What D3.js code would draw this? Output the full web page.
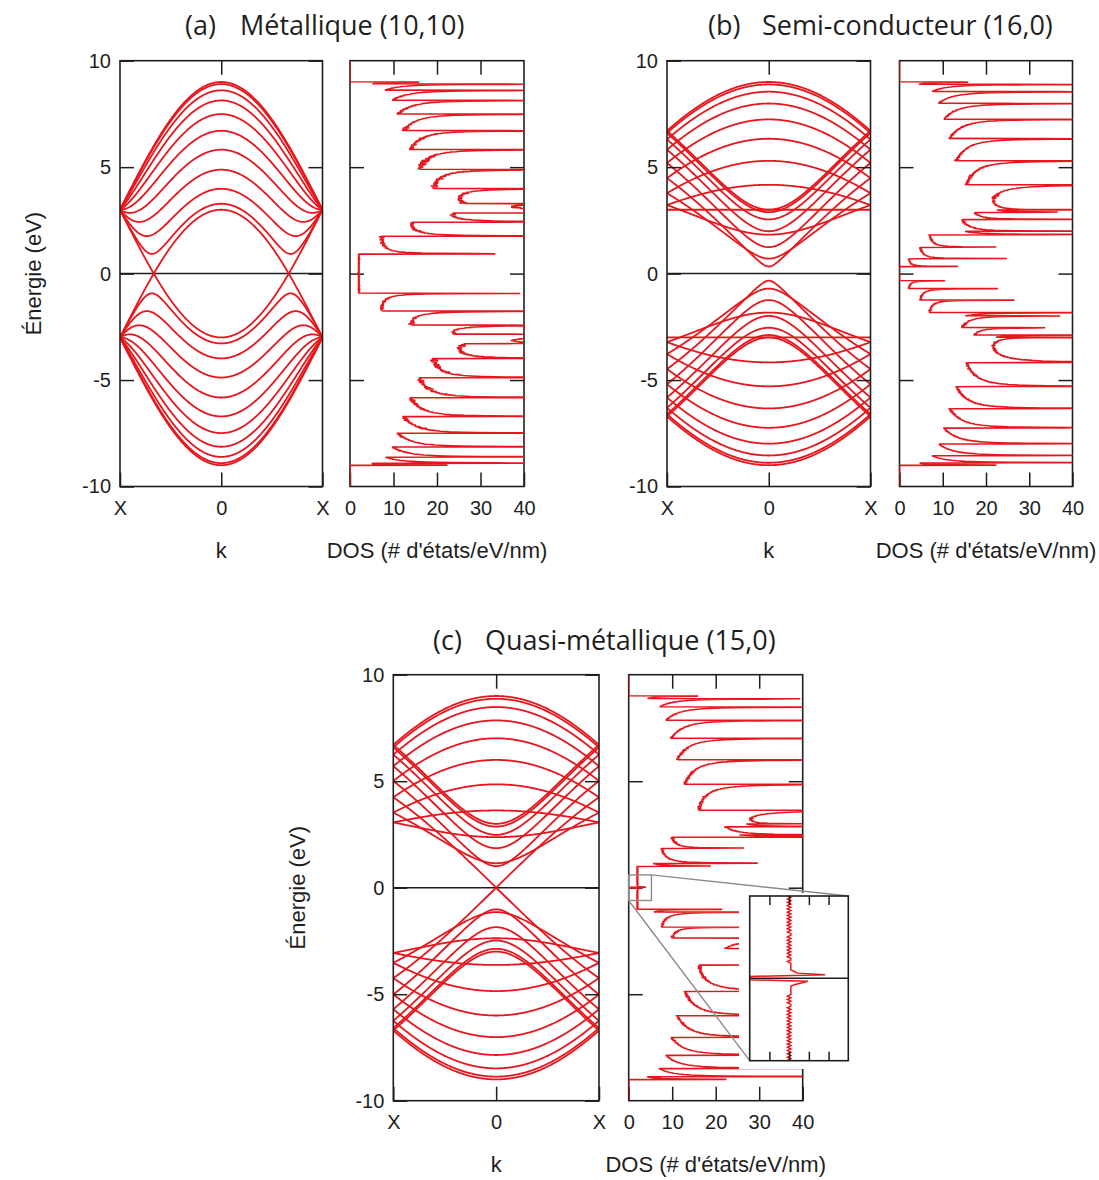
<!DOCTYPE html>
<html>
<head>
<meta charset="utf-8">
<script src="https://cdn.jsdelivr.net/npm/d3@7"></script>
<style>
  body { margin: 0; background: #fff; }
  svg { display: block; }
</style>
</head>
<body>
<svg id="fig" width="1099" height="1180"></svg>
<script>
// ---- Nanotube definitions -------------------------------------------------
const panelIds   = ["(a)", "(b)", "(c)"];
const panelNames = ["Métallique (10,10)", "Semi-conducteur (16,0)", "Quasi-métallique (15,0)"];
const chiralN    = [10, 16, 15];
const chiralM    = [10, 0, 0];
const curvatureGap = [0, 0, 0.044];    // full secondary gap (eV) from tube curvature
const hoppingEV  = 3.0;                // nearest-neighbour hopping γ0 (eV)
const latticeNm  = 0.246;              // graphene lattice constant (nm)

// ---- Axis ticks ----------------------------------------------------------
const energyTicks      = [-10, -5, 0, 5, 10];
const energyTickLabels = ["-10", "-5", "0", "5", "10"];
const kTicks           = [-1, 0, 1];
const kTickLabels      = ["X", "0", "X"];
const dosTicks         = [0, 10, 20, 30, 40];
const dosTickLabels    = ["0", "10", "20", "30", "40"];
const insetDosTicks    = [1, 2, 3, 4];
const insetEnergyRange = [-0.6, 0.6];
const insetDosRange    = [0, 5];

// Numerical DOS settings (histogram of subband energies)
const binWidth    = 0.012;    // eV
const sampleCount = 9000;     // k-samples per subband

// ---- Zone-folding tight-binding model ------------------------------------
function gcd(a, b) { return b ? gcd(b, a % b) : a; }

function tube(n, m, gap) {
  const dR = gcd(2 * m + n, 2 * n + m);
  const t1 = (2 * m + n) / dR, t2 = -(2 * n + m) / dR;
  const N = 2 * (n * n + m * m + n * m) / dR;                 // number of subbands
  const T = Math.sqrt(3) * latticeNm * Math.sqrt(n * n + n * m + m * m) / dR; // unit cell length
  const half = gap / 2;
  // subband mu, reduced wavevector s in [-1/2, 1/2], sign = conduction/valence
  function energy(mu, s, sign) {
    const p1 = 2 * Math.PI * (-mu * t2 + s * m) / N;
    const p2 = 2 * Math.PI * (mu * t1 - s * n) / N;
    const re = 1 + Math.cos(p1) + Math.cos(p2);
    const im = Math.sin(p1) + Math.sin(p2);
    const e = hoppingEV * Math.hypot(re, im);
    return sign * Math.sqrt(e * e + half * half);
  }
  return { N, T, energy };
}

function dosHistogram(tb) {
  const nBins = Math.ceil(20 / binWidth);
  const g = new Float64Array(nBins);
  const w = 2 / (sampleCount * tb.T * binWidth);   // spin-degenerate, states / eV / nm
  for (let mu = 0; mu < tb.N; mu++) {
    for (let j = 0; j < sampleCount; j++) {
      const s = -0.5 + (j + 0.5) / sampleCount;
      const e = tb.energy(mu, s, 1);
      let b = Math.floor((e + 10) / binWidth);
      if (b >= 0 && b < nBins) g[b] += w;
      b = Math.floor((-e + 10) / binWidth);
      if (b >= 0 && b < nBins) g[b] += w;
    }
  }
  const pts = [{ e: -10, g: 0 }];
  g.forEach((v, b) => {
    const e = -10 + (b + 0.5) * binWidth;
    if (e < 10) pts.push({ e, g: v });
  });
  pts.push({ e: 10, g: 0 });
  return pts;
}

// ---- Drawing ---------------------------------------------------------------
const RED = "#e8161c", INK = "#1e1e1e";
const sansFont  = "'Liberation Sans', Arial, sans-serif";
const titleFont = "'Open Sans', sans-serif";
const svg = d3.select("#fig");
const defs = svg.append("defs");

const layout = [
  { band: [120, 322.5], dos: [350, 524],     top: 60.7,  bottom: 486.5,
    id: [185, 35], name: [240, 35], ylab: 33 },
  { band: [667, 870.5], dos: [899.5, 1072.5], top: 60.7, bottom: 486.5,
    id: [708, 35], name: [762, 35], ylab: null },
  { band: [393.3, 599], dos: [628.7, 802.7], top: 674.7, bottom: 1100.7,
    id: [433, 650], name: [485, 650], ylab: 297 }
];

function styleAxis(g) {
  g.select(".domain").remove();
  g.attr("font-size", 20).attr("font-family", sansFont).attr("color", INK);
  g.selectAll(".tick line").attr("stroke-width", 1.5);
  return g;
}

function clip(id, x0, y0, x1, y1) {
  defs.append("clipPath").attr("id", id).append("rect")
    .attr("x", x0).attr("y", y0).attr("width", x1 - x0).attr("height", y1 - y0);
}

function drawPanel(i) {
  const L = layout[i];
  const tb = tube(chiralN[i], chiralM[i], curvatureGap[i]);
  const y  = d3.scaleLinear().domain([-10, 10]).range([L.bottom, L.top]);
  const xk = d3.scaleLinear().domain([-1, 1]).range(L.band);
  const xd = d3.scaleLinear().domain([0, 40]).range(L.dos);
  const g = svg.append("g");

  // Titles
  g.append("text").attr("x", L.id[0]).attr("y", L.id[1])
    .attr("font-family", titleFont).attr("font-size", 27).attr("fill", INK).text(panelIds[i]);
  g.append("text").attr("x", L.name[0]).attr("y", L.name[1])
    .attr("font-family", titleFont).attr("font-size", 27).attr("fill", INK).text(panelNames[i]);

  // ---------- band structure ----------
  const bx0 = L.band[0], bx1 = L.band[1];
  clip("cb" + i, bx0, L.top, bx1, L.bottom);

  g.append("line").attr("x1", bx0).attr("x2", bx1).attr("y1", y(0)).attr("y2", y(0))
    .attr("stroke", INK).attr("stroke-width", 1.5);

  const ks = d3.range(0, 401).map(j => -1 + 2 * j / 400);
  const curves = [];
  for (let mu = 0; mu <= tb.N / 2; mu++)
    for (const sg of [1, -1])
      curves.push(ks.map(k => [k, tb.energy(mu, k / 2, sg)]));
  const bandLine = d3.line().x(d => xk(d[0])).y(d => y(d[1]));
  g.append("g").attr("clip-path", `url(#cb${i})`)
    .selectAll("path").data(curves).join("path")
    .attr("d", bandLine).attr("fill", "none")
    .attr("stroke", RED).attr("stroke-width", 1.8);

  g.append("rect").attr("x", bx0).attr("y", L.top).attr("width", bx1 - bx0)
    .attr("height", L.bottom - L.top).attr("fill", "none")
    .attr("stroke", INK).attr("stroke-width", 1.6);

  styleAxis(g.append("g").attr("transform", `translate(${bx0},0)`)
    .call(d3.axisLeft(y).tickValues(energyTicks).tickSizeInner(-14).tickSizeOuter(0)
      .tickPadding(9).tickFormat((d, j) => energyTickLabels[j])));
  styleAxis(g.append("g").attr("transform", `translate(${bx1},0)`)
    .call(d3.axisRight(y).tickValues(energyTicks).tickSizeInner(-14).tickSizeOuter(0).tickFormat("")));
  styleAxis(g.append("g").attr("transform", `translate(0,${L.top})`)
    .call(d3.axisTop(xk).tickValues([0]).tickSizeInner(-14).tickSizeOuter(0).tickFormat("")));
  styleAxis(g.append("g").attr("transform", `translate(0,${L.bottom})`)
    .call(d3.axisBottom(xk).tickValues(kTicks).tickSizeInner(-14).tickSizeOuter(0)
      .tickPadding(14).tickFormat((d, j) => kTickLabels[j])));

  g.append("text").attr("x", (bx0 + bx1) / 2).attr("y", L.bottom + 71)
    .attr("text-anchor", "middle").attr("font-family", sansFont).attr("font-size", 22)
    .attr("fill", INK).text("k");

  if (L.ylab !== null) {
    g.append("text")
      .attr("transform", `translate(${L.ylab},${y(0)}) rotate(-90)`)
      .attr("text-anchor", "middle").attr("dominant-baseline", "central")
      .attr("font-family", sansFont).attr("font-size", 22).attr("fill", INK)
      .text("Énergie (eV)");
  }

  // ---------- density of states ----------
  const dx0 = L.dos[0], dx1 = L.dos[1];
  clip("cd" + i, dx0, L.top, dx1, L.bottom);
  const dos = dosHistogram(tb);

  g.append("rect").attr("x", dx0).attr("y", L.top).attr("width", dx1 - dx0)
    .attr("height", L.bottom - L.top).attr("fill", "none")
    .attr("stroke", INK).attr("stroke-width", 1.6);

  styleAxis(g.append("g").attr("transform", `translate(${dx0},0)`)
    .call(d3.axisLeft(y).tickValues([-5, 0, 5]).tickSizeInner(-14).tickSizeOuter(0).tickFormat("")));
  styleAxis(g.append("g").attr("transform", `translate(${dx1},0)`)
    .call(d3.axisRight(y).tickValues([-5, 0, 5]).tickSizeInner(-14).tickSizeOuter(0).tickFormat("")));
  styleAxis(g.append("g").attr("transform", `translate(0,${L.top})`)
    .call(d3.axisTop(xd).tickValues([10, 20, 30]).tickSizeInner(-14).tickSizeOuter(0).tickFormat("")));
  styleAxis(g.append("g").attr("transform", `translate(0,${L.bottom})`)
    .call(d3.axisBottom(xd).tickValues(dosTicks).tickSizeInner(-14).tickSizeOuter(0)
      .tickPadding(14).tickFormat((d, j) => dosTickLabels[j])));

  const dosLine = d3.line().x(d => xd(d.g)).y(d => y(d.e));
  g.append("path").datum(dos).attr("clip-path", `url(#cd${i})`)
    .attr("d", dosLine).attr("fill", "none")
    .attr("stroke", RED).attr("stroke-width", 1.6).attr("stroke-linejoin", "round");

  g.append("text").attr("x", (dx0 + dx1) / 2).attr("y", L.bottom + 71)
    .attr("text-anchor", "middle").attr("font-family", sansFont).attr("font-size", 22)
    .attr("fill", INK).text("DOS (# d'états/eV/nm)");

  return { g, y, xd, dos };
}

const panels = [0, 1, 2].map(drawPanel);

// ---------- magnified view of the DOS around the Fermi level, panel (c) ----------
(function drawInset() {
  const { g, y, xd, dos } = panels[2];
  const box = { x0: 749.7, x1: 848.3, y0: 896, y1: 1060.7 };
  const xi = d3.scaleLinear().domain(insetDosRange).range([box.x0, box.x1]);
  const yi = d3.scaleLinear().domain(insetEnergyRange).range([box.y1, box.y0]);

  // white backing that hides the main curves behind the inset
  g.append("rect").attr("x", 739).attr("y", 893).attr("width", box.x1 - 739 + 4)
    .attr("height", 1069 - 893).attr("fill", "#fff");

  const mx0 = xd(insetDosRange[0]), mx1 = xd(insetDosRange[1]) + 1;
  const my0 = y(insetEnergyRange[1]), my1 = y(insetEnergyRange[0]);
  const GREY = "#8c8c8c";
  g.append("rect").attr("x", mx0).attr("y", my0).attr("width", mx1 - mx0).attr("height", my1 - my0)
    .attr("fill", "none").attr("stroke", GREY).attr("stroke-width", 1.4);
  g.append("line").attr("x1", mx1).attr("y1", my0).attr("x2", box.x1).attr("y2", box.y0)
    .attr("stroke", GREY).attr("stroke-width", 1.4);
  g.append("line").attr("x1", mx0).attr("y1", my1).attr("x2", box.x0).attr("y2", box.y1)
    .attr("stroke", GREY).attr("stroke-width", 1.4);

  clip("cinset", box.x0, box.y0, box.x1, box.y1);
  const near = dos.filter(d => d.e >= insetEnergyRange[0] - binWidth && d.e <= insetEnergyRange[1] + binWidth);
  const line = d3.line().x(d => xi(d.g)).y(d => yi(d.e));
  g.append("path").datum(near).attr("clip-path", "url(#cinset)")
    .attr("d", line).attr("fill", "none").attr("stroke", RED).attr("stroke-width", 1.5);

  g.append("line").attr("x1", box.x0).attr("x2", box.x1).attr("y1", yi(0)).attr("y2", yi(0))
    .attr("stroke", INK).attr("stroke-width", 1.5);

  g.append("rect").attr("x", box.x0).attr("y", box.y0).attr("width", box.x1 - box.x0)
    .attr("height", box.y1 - box.y0).attr("fill", "none").attr("stroke", INK).attr("stroke-width", 1.6);

  styleAxis(g.append("g").attr("transform", `translate(0,${box.y0})`)
    .call(d3.axisTop(xi).tickValues(insetDosTicks).tickSizeInner(-9).tickSizeOuter(0).tickFormat("")));
  styleAxis(g.append("g").attr("transform", `translate(0,${box.y1})`)
    .call(d3.axisBottom(xi).tickValues(insetDosTicks).tickSizeInner(-9).tickSizeOuter(0).tickFormat("")));
})();
</script>
</body>
</html>
